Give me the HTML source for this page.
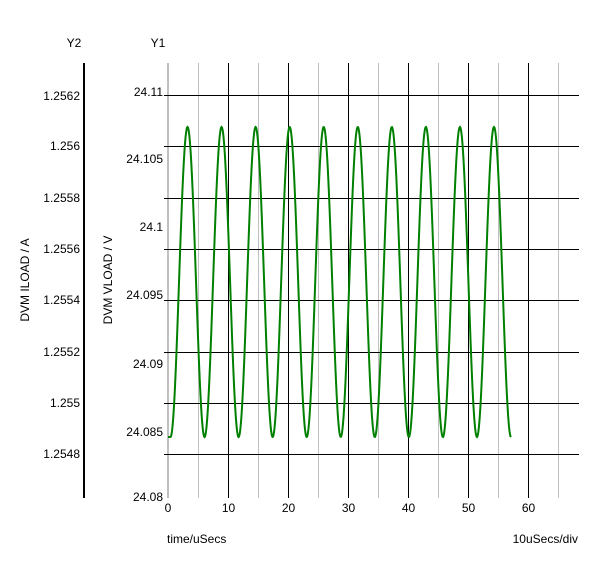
<!DOCTYPE html>
<html><head><style>body{margin:0;background:#fff}svg text{font-family:"Liberation Sans",sans-serif;font-size:12px;fill:#000}</style></head><body>
<svg width="600" height="563" xmlns="http://www.w3.org/2000/svg">
<rect width="600" height="563" fill="#fff"/>
<g stroke="#c0c0c0" stroke-width="1">
<line x1="198.5" y1="63" x2="198.5" y2="498"/><line x1="258.5" y1="63" x2="258.5" y2="498"/><line x1="318.5" y1="63" x2="318.5" y2="498"/><line x1="378.5" y1="63" x2="378.5" y2="498"/><line x1="438.5" y1="63" x2="438.5" y2="498"/><line x1="498.5" y1="63" x2="498.5" y2="498"/><line x1="558.5" y1="63" x2="558.5" y2="498"/>
</g>
<line x1="168" y1="63" x2="168" y2="498" stroke="#c0c0c0" stroke-width="2"/>
<g stroke="#000" stroke-width="1">
<line x1="228.5" y1="63" x2="228.5" y2="498"/><line x1="288.5" y1="63" x2="288.5" y2="498"/><line x1="348.5" y1="63" x2="348.5" y2="498"/><line x1="408.5" y1="63" x2="408.5" y2="498"/><line x1="468.5" y1="63" x2="468.5" y2="498"/><line x1="528.5" y1="63" x2="528.5" y2="498"/>
<line x1="164" y1="95.5" x2="579" y2="95.5"/><line x1="164" y1="146.5" x2="579" y2="146.5"/><line x1="164" y1="198.5" x2="579" y2="198.5"/><line x1="164" y1="249.5" x2="579" y2="249.5"/><line x1="164" y1="300.5" x2="579" y2="300.5"/><line x1="164" y1="352.5" x2="579" y2="352.5"/><line x1="164" y1="403.5" x2="579" y2="403.5"/><line x1="164" y1="454.5" x2="579" y2="454.5"/>
</g>
<line x1="84" y1="63" x2="84" y2="498" stroke="#000" stroke-width="2"/>
<polyline id="w" fill="none" stroke="#008000" stroke-width="2" points=""/>
<script>
var p=[];for(var x=168;x<=511;x+=0.5){var t=Math.max(0,(x-170.5))/34.05*2*Math.PI;var y=437-310*(1-Math.cos(t))/2;p.push(x+","+y.toFixed(1));}
document.getElementById('w').setAttribute('points',p.join(' '));
</script>
<g text-anchor="end">
<text x="163" y="96">24.11</text><text x="163" y="163">24.105</text><text x="163" y="231">24.1</text><text x="163" y="299">24.095</text><text x="163" y="368">24.09</text><text x="163" y="436">24.085</text><text x="163" y="501">24.08</text>
<text x="80" y="100">1.2562</text><text x="80" y="150">1.256</text><text x="80" y="202">1.2558</text><text x="80" y="253">1.2556</text><text x="80" y="304">1.2554</text><text x="80" y="356">1.2552</text><text x="80" y="407">1.255</text><text x="80" y="458">1.2548</text>
<text x="578" y="543">10uSecs/div</text>
</g>
<g text-anchor="middle">
<text x="168" y="512">0</text><text x="228.5" y="512">10</text><text x="288.5" y="512">20</text><text x="348.5" y="512">30</text><text x="408.5" y="512">40</text><text x="468.5" y="512">50</text><text x="528.5" y="512">60</text>
<text x="74" y="47">Y2</text><text x="158" y="47">Y1</text>
<text transform="translate(29,280) rotate(-90)">DVM ILOAD / A</text>
<text transform="translate(112,280) rotate(-90)">DVM VLOAD / V</text>
</g>
<text x="167" y="543">time/uSecs</text>
</svg>
</body></html>
